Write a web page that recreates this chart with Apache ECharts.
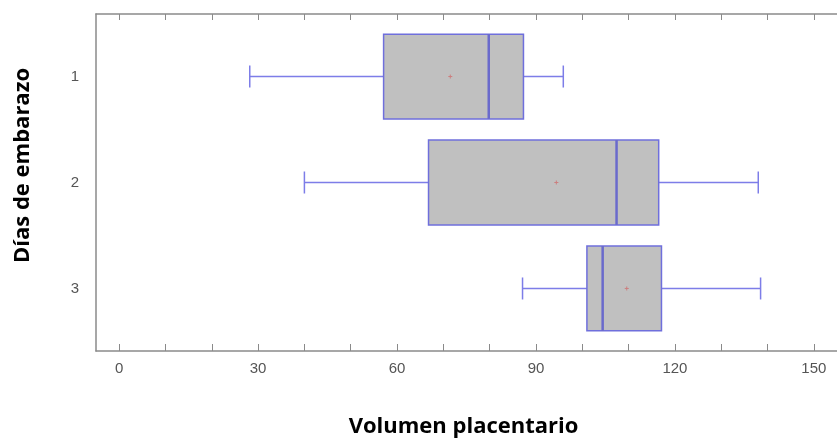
<!DOCTYPE html>
<html>
<head>
<meta charset="utf-8">
<script src="https://cdn.jsdelivr.net/npm/echarts@6/dist/echarts.min.js"></script>
<style>
  html, body { margin: 0; padding: 0; background: #fff; }
  #chart { width: 837px; height: 443px; }
</style>
</head>
<body>
<div id="chart"></div>
<script>
// groups (días de embarazo)
var groups = [1, 2, 3];
// [min, Q1, median, Q3, max] volumen placentario
var lowWhisker = [28.2, 40.0, 87.1];
var q1 = [57.1, 66.8, 101.0];
var medians = [79.8, 107.4, 104.4];
var q3 = [87.3, 116.5, 117.1];
var highWhisker = [95.9, 138.0, 138.5];
var means = [71.5, 94.4, 109.6];
var xTicks = [0, 10, 20, 30, 40, 50, 60, 70, 80, 90, 100, 110, 120, 130, 140, 150];
var xLabels = [0, 30, 60, 90, 120, 150];

var chart = echarts.init(document.getElementById('chart'));

var boxData = groups.map(function (g, i) {
  return [g, lowWhisker[i], q1[i], medians[i], q3[i], highWhisker[i], means[i]];
});

function renderBox(params, api) {
  var g = api.value(0);
  var half = 0.4;
  var pLow = api.coord([api.value(1), g]);
  var pQ1 = api.coord([api.value(2), g]);
  var pMed = api.coord([api.value(3), g]);
  var pQ3 = api.coord([api.value(4), g]);
  var pHigh = api.coord([api.value(5), g]);
  var pMean = api.coord([api.value(6), g]);
  var top = api.coord([0, g - half])[1];
  var bot = api.coord([0, g + half])[1];
  var cy = pMed[1];
  var capH = 11;
  var lineBlue = '#7d7de8';
  return {
    type: 'group',
    children: [
      { type: 'line', shape: { x1: pLow[0], y1: cy, x2: pQ1[0], y2: cy }, style: { stroke: lineBlue, lineWidth: 1.5 } },
      { type: 'line', shape: { x1: pLow[0], y1: cy - capH, x2: pLow[0], y2: cy + capH }, style: { stroke: lineBlue, lineWidth: 1.5 } },
      { type: 'line', shape: { x1: pQ3[0], y1: cy, x2: pHigh[0], y2: cy }, style: { stroke: lineBlue, lineWidth: 1.5 } },
      { type: 'line', shape: { x1: pHigh[0], y1: cy - capH, x2: pHigh[0], y2: cy + capH }, style: { stroke: lineBlue, lineWidth: 1.5 } },
      { type: 'rect', shape: { x: pQ1[0], y: top, width: pQ3[0] - pQ1[0], height: bot - top },
        style: { fill: '#c0c0c0', stroke: '#6f6fdc', lineWidth: 1.5 } },
      { type: 'line', shape: { x1: pMed[0], y1: top, x2: pMed[0], y2: bot }, style: { stroke: '#6a6acc', lineWidth: 2.5 } },
      { type: 'line', shape: { x1: pMean[0] - 2, y1: cy, x2: pMean[0] + 2, y2: cy }, style: { stroke: '#cc7f7f', lineWidth: 1 } },
      { type: 'line', shape: { x1: pMean[0], y1: cy - 2, x2: pMean[0], y2: cy + 2 }, style: { stroke: '#cc7f7f', lineWidth: 1 } }
    ]
  };
}

chart.setOption({
  animation: false,
  backgroundColor: '#fff',
  grid: { left: 96, right: -5, top: 14, bottom: 89 },
  xAxis: [{
    type: 'value',
    position: 'bottom',
    min: -5,
    max: 155,
    name: 'Volumen placentario',
    nameLocation: 'middle',
    nameGap: 65,
    nameTextStyle: { fontFamily: 'Open Sans', fontWeight: 'bold', fontSize: 22, color: '#000', padding: [0, 6, 0, 0] },
    axisLine: { show: true, onZero: false, lineStyle: { color: '#8a8a8a', width: 1.5 } },
    axisTick: { show: true, inside: true, length: 7, customValues: xTicks, lineStyle: { color: '#8a8a8a' } },
    axisLabel: { customValues: xLabels, margin: 10, fontFamily: 'Liberation Sans', fontSize: 15, color: '#555' },
    splitLine: { show: false }
  }, {
    type: 'value',
    position: 'top',
    min: -5,
    max: 155,
    axisLine: { show: true, onZero: false, lineStyle: { color: '#8a8a8a', width: 1.5 } },
    axisTick: { show: true, inside: true, length: 6, customValues: xTicks, lineStyle: { color: '#8a8a8a' } },
    axisLabel: { show: false },
    splitLine: { show: false }
  }],
  yAxis: {
    type: 'value',
    inverse: true,
    min: 0.41,
    max: 3.59,
    name: 'Días de embarazo',
    nameLocation: 'middle',
    nameRotate: 90,
    nameGap: 62,
    nameTextStyle: { fontFamily: 'Open Sans', fontWeight: 'bold', fontSize: 22, color: '#000', padding: [0, 0, 0, 34] },
    axisLine: { show: true, onZero: false, lineStyle: { color: '#8a8a8a', width: 1.5 } },
    axisTick: { show: false },
    axisLabel: { customValues: groups, margin: 17, fontFamily: 'Liberation Sans', fontSize: 15, color: '#555' },
    splitLine: { show: false }
  },
  series: [{
    type: 'custom',
    xAxisIndex: 0,
    renderItem: renderBox,
    encode: { x: [1, 2, 3, 4, 5, 6], y: 0 },
    data: boxData
  }]
});
</script>
</body>
</html>
